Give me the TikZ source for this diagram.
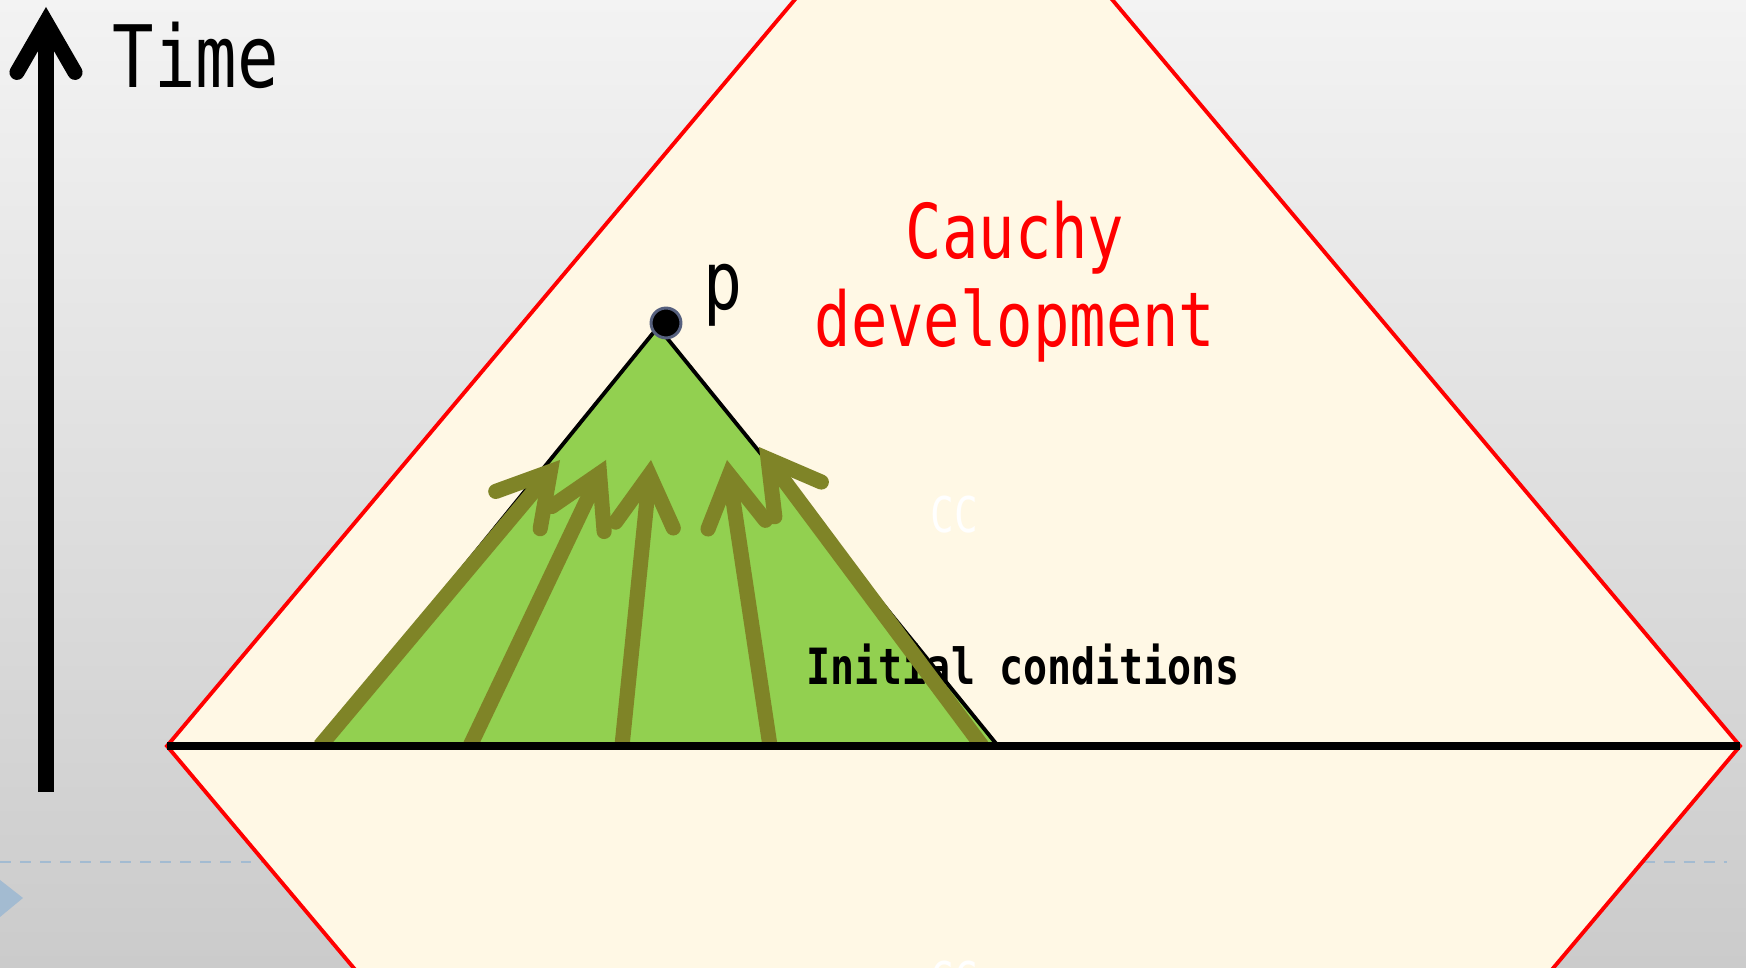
\documentclass[tikz,border=0pt]{standalone}
\usepackage{fontspec}
\usepackage{xcolor}
\usepackage{tikz}
\usetikzlibrary{arrows.meta,positioning}
\newfontfamily\gothic[FakeStretch=0.8]{DejaVu Sans Mono}
\definecolor{slideTop}{HTML}{F3F3F3}
\definecolor{slideMid}{HTML}{E4E4E4}
\definecolor{slideBot}{HTML}{CBCBCB}
\definecolor{domCream}{HTML}{FFF8E5}
\definecolor{coneGreen}{HTML}{92D050}
\definecolor{rayOlive}{HTML}{7F8427}
\definecolor{decoBlue}{HTML}{A3BBD1}
\definecolor{dotRim}{HTML}{56607E}
\tikzset{
  barb/.style={-{Straight Barb[angle=60:16.5pt, line cap=round, line join=miter]}},
  timearrow/.style={barb, draw=black, line width=4.3pt},
  ray/.style={barb, draw=rayOlive, line width=4.3pt},
  cauchyedge/.style={fill=domCream, draw=red, line width=1.1pt},
  coneedge/.style={draw=black, line width=1.1pt},
  sigmaline/.style={draw=black, line width=2.3pt},
  decoline/.style={draw=decoBlue, line width=0.8pt, dash pattern=on 3.1pt off 2.6pt},
  txt/.style={inner sep=0pt, font=\gothic}
}
\begin{document}
\begin{tikzpicture}[x=0.01cm, y=-0.01cm]
  \useasboundingbox (0,0) rectangle (1746,968);
  \clip (0,0) rectangle (1746,968);
  \shade[top color=slideTop, middle color=slideMid, bottom color=slideBot] (0,0) rectangle (1746,968);

  \coordinate (dash0) at (0,862);
  \coordinate (dash1) at (1727,862);
  \draw[decoline] (dash0) -- (dash1);
  \fill[decoBlue] (0,880) -- (23,898) -- (0,917) -- cycle;

  \coordinate (sL) at (167,746);
  \coordinate (sR) at (1740,746);
  \coordinate (dT) at (953.5,-189);
  \coordinate (dB) at (953.5,1681);
  \filldraw[cauchyedge] (sL) -- (dT) -- (sR) -- (dB) -- cycle;

  \coordinate (cL) at (318,746);
  \coordinate (cP) at (658,327);
  \coordinate (cR) at (998,746);
  \fill[coneGreen] (cL) -- (cP) -- (cR) -- cycle;
  \draw[coneedge] (cL) -- (cP) -- (cR);

  \node[txt, anchor=base west, font=\gothic\bfseries\fontsize{14.2}{17}\selectfont] (init) at (806,685) {Initial conditions};
  \node[txt, anchor=base west, text=white, font=\gothic\fontsize{14}{17}\selectfont] (cc) at (930,533) {CC};
  \node[txt, anchor=base west, text=white, font=\gothic\fontsize{14}{17}\selectfont] (cc2) at (930,998) {CC};

  \begin{scope}
    \clip (0,0) rectangle (1746,746);
    \foreach \n/\bx/\tx/\ty in {1/320/560/460, 2/470/606/460, 3/622/651/460, 4/770/727/460, 5/982/759/447}
    {
      \coordinate (ray\n a) at (\bx,746);
      \coordinate (ray\n b) at (\tx,\ty);
      \draw[ray] (ray\n a) -- (ray\n b);
    }
  \end{scope}

  \draw[sigmaline] (sL) -- (sR);

  \node[circle, fill=black, draw=dotRim, line width=0.85pt, minimum size=8.5pt, inner sep=0pt] (dot) at (666,323) {};
  \node[txt, anchor=base west, font=\gothic\fontsize{23}{26}\selectfont] (p) at (703,310) {p};

  \node[txt, anchor=base, align=center, text=red, font=\gothic\fontsize{21.5}{25.3}\selectfont] (cauchy) at (1015,347) {Cauchy\\development};

  \coordinate (time0) at (46,792);
  \coordinate (time1) at (46,7);
  \draw[timearrow] (time0) -- (time1);
  \node[txt, anchor=base west, font=\gothic\fontsize{24.5}{28}\selectfont] (time) at (112,88) {Time};
\end{tikzpicture}
\end{document}
